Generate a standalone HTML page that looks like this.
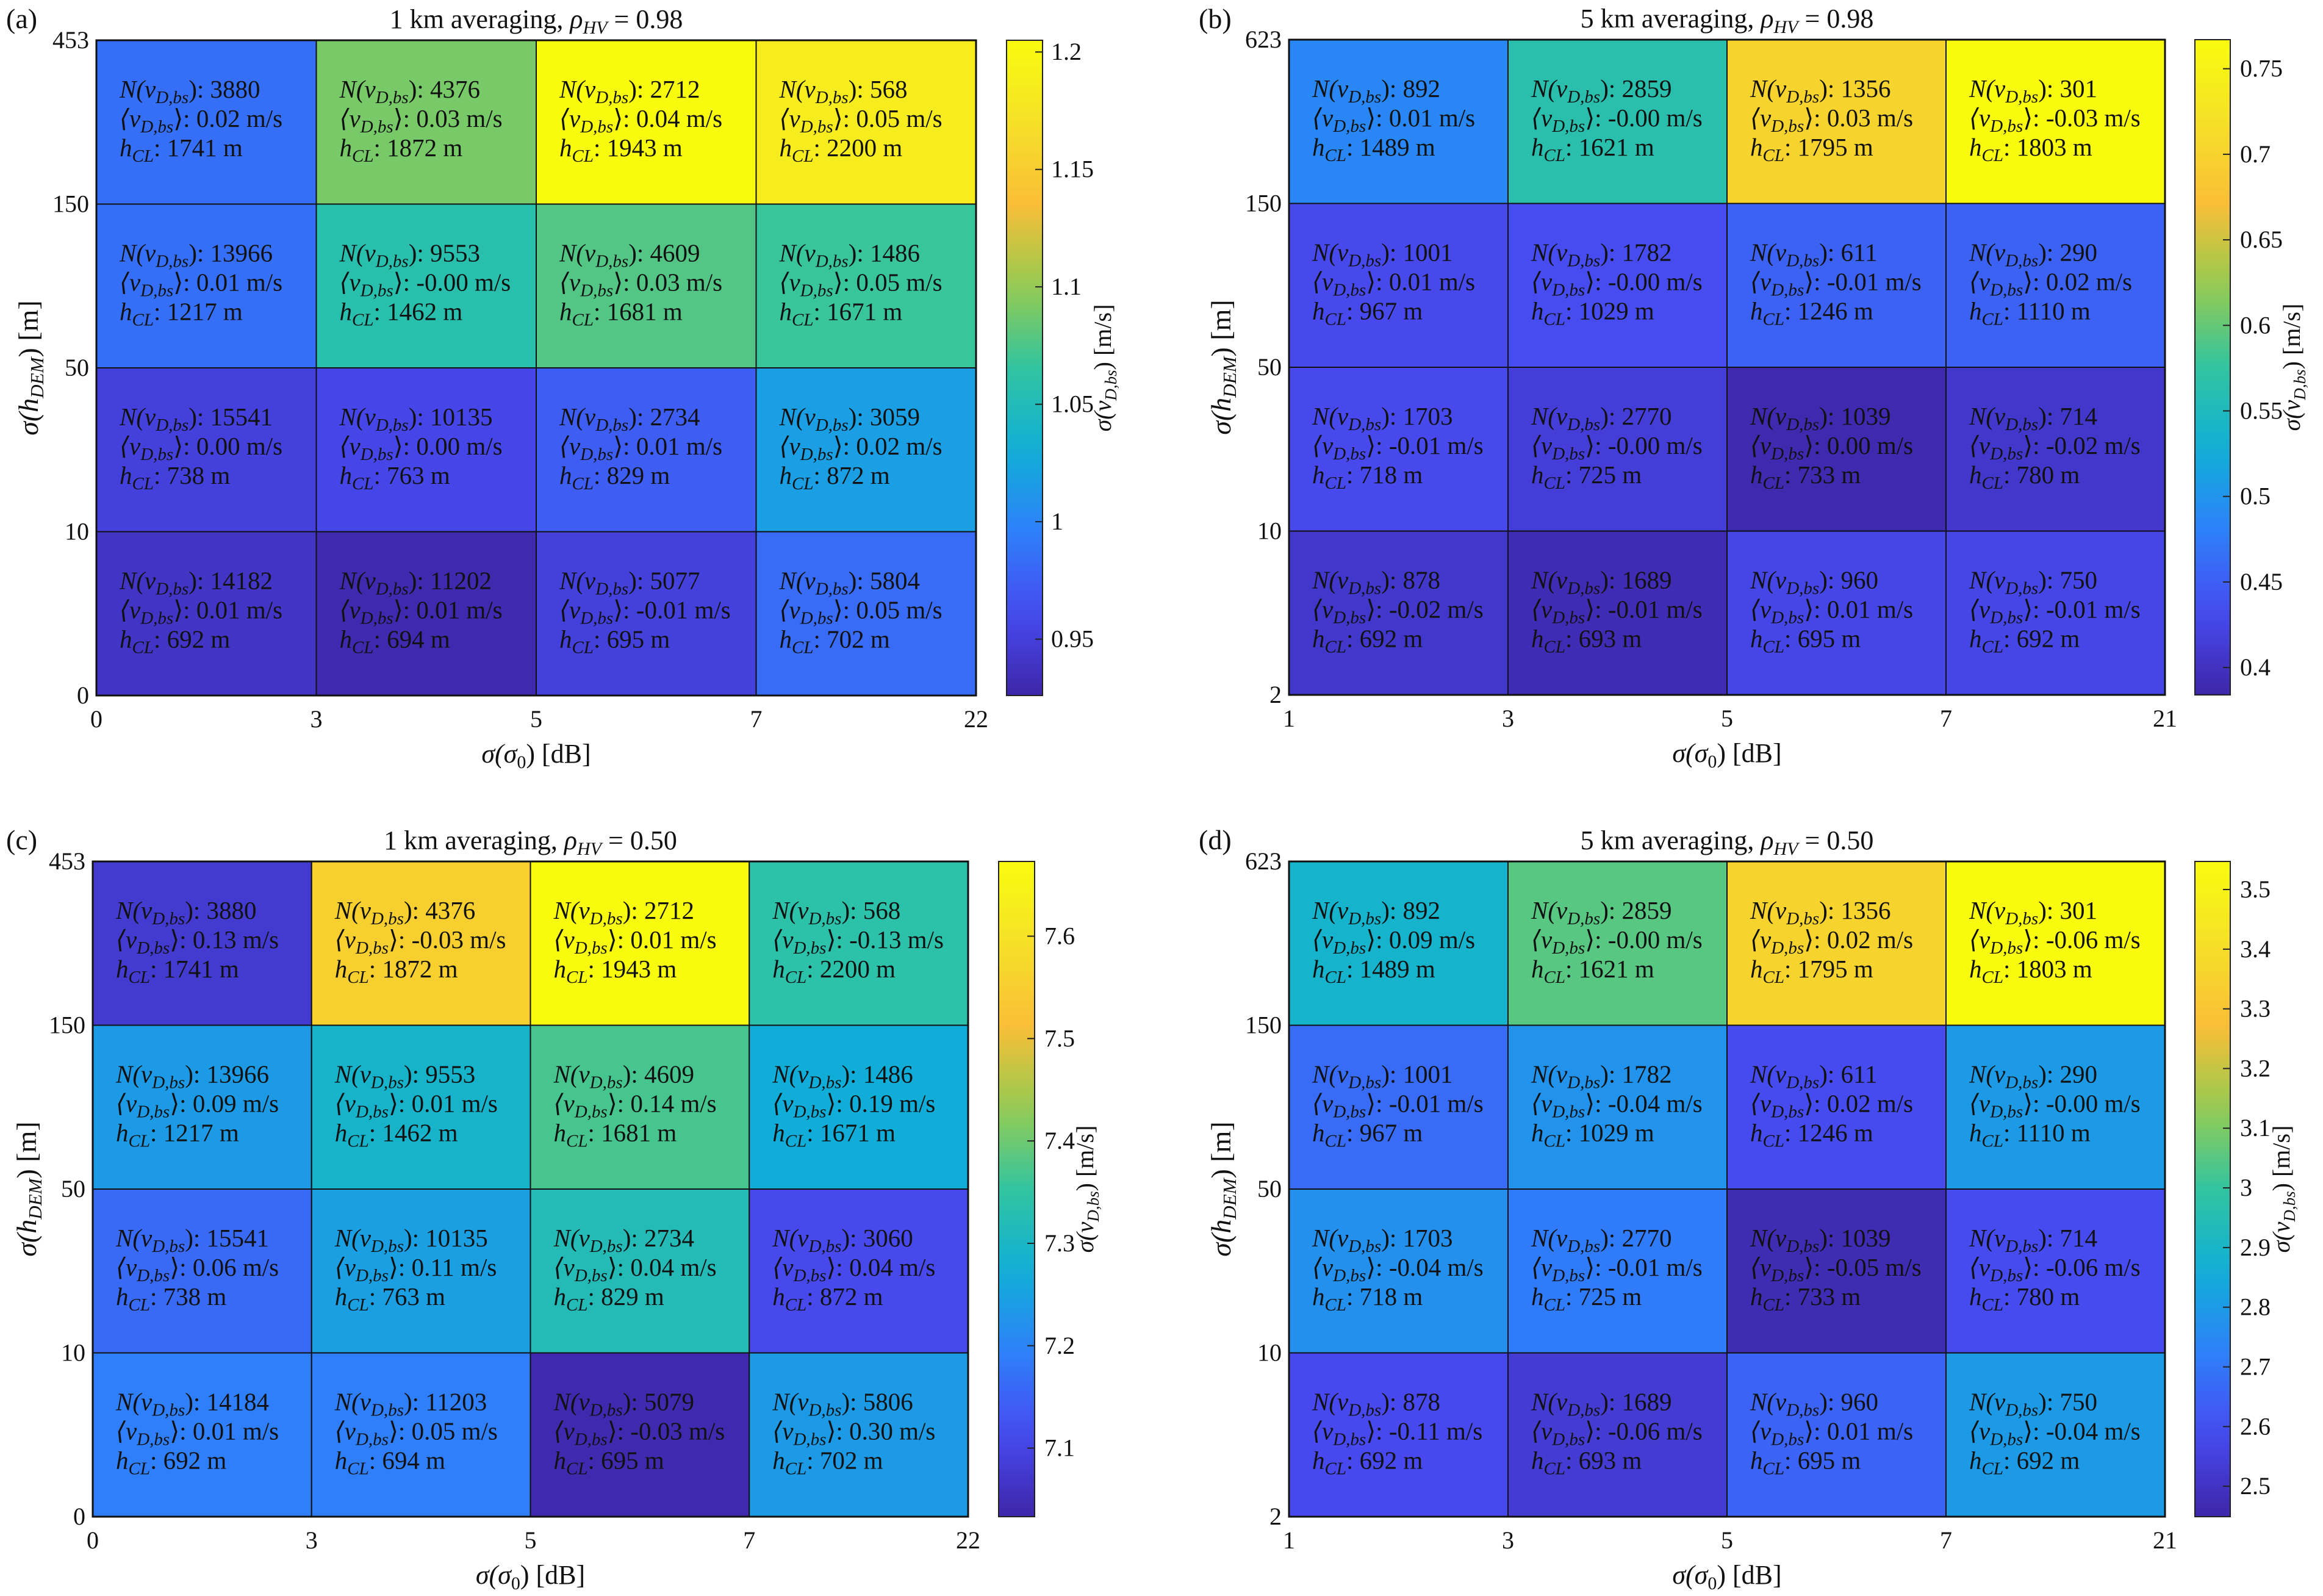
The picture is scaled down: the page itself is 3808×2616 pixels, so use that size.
<!DOCTYPE html>
<html><head><meta charset="utf-8"><style>
body{margin:0;background:#fff}
svg{display:block}
svg text{font-family:"Liberation Serif","DejaVu Serif",serif;fill:#111}
</style></head><body>
<svg id="fig" width="3808" height="2616" viewBox="0 0 3808 2616" xmlns="http://www.w3.org/2000/svg" font-family="Liberation Serif, DejaVu Serif, serif">
<defs id="defs"></defs>
</svg>
<script>
// ---- data ----
const panelIds = ['a','b','c','d'];
const panelTitles = ['1 km averaging, ','5 km averaging, ','1 km averaging, ','5 km averaging, '];
const rhoValues = ['0.98','0.98','0.50','0.50'];
const xTicksA = ['0','3','5','7','22'];
const xTicksB = ['1','3','5','7','21'];
const yTicksA = ['453','150','50','10','0'];
const yTicksB = ['623','150','50','10','2'];
// cell values (rows top->bottom, cols left->right)
const sigmaA = [[0.985,1.090,1.205,1.185],[0.985,1.057,1.077,1.068],[0.951,0.957,0.973,1.018],[0.940,0.929,0.951,0.982]];
const sigmaB = [[0.487,0.564,0.700,0.767],[0.430,0.434,0.453,0.453],[0.430,0.415,0.388,0.407],[0.407,0.392,0.426,0.426]];
const sigmaC = [[7.078,7.555,7.673,7.340],[7.238,7.290,7.370,7.270],[7.160,7.245,7.320,7.110],[7.190,7.190,7.040,7.238]];
const sigmaD = [[2.888,3.050,3.360,3.547],[2.670,2.780,2.590,2.800],[2.770,2.710,2.470,2.590],[2.580,2.530,2.650,2.800]];
const climA = [0.926,1.205], climB = [0.384,0.767], climC = [7.033,7.673], climD = [2.449,3.547];
const cbTicksA = ['0.95','1','1.05','1.1','1.15','1.2'];
const cbTicksB = ['0.4','0.45','0.5','0.55','0.6','0.65','0.7','0.75'];
const cbTicksC = ['7.1','7.2','7.3','7.4','7.5','7.6'];
const cbTicksD = ['2.5','2.6','2.7','2.8','2.9','3','3.1','3.2','3.3','3.4','3.5'];
const countsA = [[3880,4376,2712,568],[13966,9553,4609,1486],[15541,10135,2734,3059],[14182,11202,5077,5804]];
const countsB = [[892,2859,1356,301],[1001,1782,611,290],[1703,2770,1039,714],[878,1689,960,750]];
const countsC = [[3880,4376,2712,568],[13966,9553,4609,1486],[15541,10135,2734,3060],[14184,11203,5079,5806]];
const countsD = countsB;
const meanA = [['0.02','0.03','0.04','0.05'],['0.01','-0.00','0.03','0.05'],['0.00','0.00','0.01','0.02'],['0.01','0.01','-0.01','0.05']];
const meanB = [['0.01','-0.00','0.03','-0.03'],['0.01','-0.00','-0.01','0.02'],['-0.01','-0.00','0.00','-0.02'],['-0.02','-0.01','0.01','-0.01']];
const meanC = [['0.13','-0.03','0.01','-0.13'],['0.09','0.01','0.14','0.19'],['0.06','0.11','0.04','0.04'],['0.01','0.05','-0.03','0.30']];
const meanD = [['0.09','-0.00','0.02','-0.06'],['-0.01','-0.04','0.02','-0.00'],['-0.04','-0.01','-0.05','-0.06'],['-0.11','-0.06','0.01','-0.04']];
const hclA = [[1741,1872,1943,2200],[1217,1462,1681,1671],[738,763,829,872],[692,694,695,702]];
const hclB = [[1489,1621,1795,1803],[967,1029,1246,1110],[718,725,733,780],[692,693,695,692]];
const hclC = hclA, hclD = hclB;

// ---- layout (not data) ----
const layouts = [
 {x0:158,x1:1600,y0:66,y1:1140,cbx:1650,cbw:59,cblx:1723,cblab:1821,ylab:48,plx:10,ply:46},
 {x0:2113,x1:3549,y0:65,y1:1139,cbx:3598,cbw:58,cblx:3672,cblab:3770,ylab:2003,plx:1965,ply:46},
 {x0:152,x1:1587,y0:1412,y1:2486,cbx:1637,cbw:59,cblx:1712,cblab:1792,ylab:45,plx:10,ply:1392},
 {x0:2113,x1:3549,y0:1412,y1:2486,cbx:3598,cbw:58,cblx:3672,cblab:3753,ylab:2003,plx:1965,ply:1392}
];
const sigmas=[sigmaA,sigmaB,sigmaC,sigmaD], clims=[climA,climB,climC,climD];
const cbTicks=[cbTicksA,cbTicksB,cbTicksC,cbTicksD];
const counts=[countsA,countsB,countsC,countsD], means=[meanA,meanB,meanC,meanD], hcls=[hclA,hclB,hclC,hclD];
const xTicks=[xTicksA,xTicksB,xTicksA,xTicksB], yTicks=[yTicksA,yTicksB,yTicksA,yTicksB];

const parula=[[0,62,38,168],[0.125,71,74,240],[0.25,46,128,250],[0.375,15,175,215],[0.5,50,196,160],[0.625,150,203,80],[0.75,250,190,55],[0.875,245,225,40],[1,249,251,14]];
function cmap(f){f=Math.max(0,Math.min(1,f));for(let i=1;i<parula.length;i++){if(f<=parula[i][0]){const a=parula[i-1],b=parula[i],t=(f-a[0])/(b[0]-a[0]);return 'rgb('+[1,2,3].map(k=>Math.round(a[k]+(b[k]-a[k])*t)).join(',')+')';}}return 'rgb(249,251,14)';}

const NS='http://www.w3.org/2000/svg';
const svg=document.getElementById('fig');
const defs=document.getElementById('defs');
function el(tag,attrs,parent){const e=document.createElementNS(NS,tag);for(const k in attrs)e.setAttribute(k,attrs[k]);(parent||svg).appendChild(e);return e;}
function ts(parent,txt,attrs){const t=el('tspan',attrs||{},parent);t.textContent=txt;return t;}
const FF='Liberation Serif, DejaVu Serif, serif';

const grad=el('linearGradient',{id:'parula',x1:'0',y1:'1',x2:'0',y2:'0'},defs);
for(let i=0;i<=20;i++){el('stop',{offset:(i/20),'stop-color':cmap(i/20)},grad);}

panelIds.forEach((pid,p)=>{
  const L=layouts[p]; const S=sigmas[p]; const cl=clims[p];
  const g=el('g',{'font-family':FF});
  
  
  const cw=(L.x1-L.x0)/4, ch=(L.y1-L.y0)/4;
  const xs=c=>L.x0+c*cw, ys=r=>L.y0+r*ch;
  const frac=v=>(v-cl[0])/(cl[1]-cl[0]);
  for(let r=0;r<4;r++)for(let c=0;c<4;c++){
    const cell=el('rect',{x:xs(c),y:ys(r),width:cw,height:ch,fill:cmap(frac(S[r][c])),stroke:'#111','stroke-width':2},g);
    
    
    const tx=xs(c)+38, by=ys(r)+94;
    const t1=el('text',{x:tx,y:by,'font-size':41},g);
    
    
    ts(t1,'N(v',{'font-style':'italic'});
    ts(t1,'D,bs',{'font-size':29,dy:9,'font-style':'italic'});
    ts(t1,'): '+counts[p][r][c],{dy:-9});
    const t2=el('text',{x:tx,y:by+48,'font-size':41},g);
    
    
    ts(t2,'⟨v',{'font-style':'italic'});
    ts(t2,'D,bs',{'font-size':29,dy:9,'font-style':'italic'});
    ts(t2,'⟩: '+means[p][r][c]+' m/s',{dy:-9});
    const t3=el('text',{x:tx,y:by+96,'font-size':41},g);
    
    
    ts(t3,'h',{'font-style':'italic'});
    ts(t3,'CL',{'font-size':29,dy:9,'font-style':'italic'});
    ts(t3,': '+hcls[p][r][c]+' m',{dy:-9});
  }
  el('rect',{x:L.x0,y:L.y0,width:L.x1-L.x0,height:L.y1-L.y0,fill:'none',stroke:'#111','stroke-width':3},g);
  xTicks[p].forEach((lab,i)=>{const t=el('text',{x:xs(i),y:L.y1+52,'font-size':40,'text-anchor':'middle'},g);t.textContent=lab;
    });
  yTicks[p].forEach((lab,i)=>{const t=el('text',{x:L.x0-12,y:ys(i)+13,'font-size':40,'text-anchor':'end'},g);t.textContent=lab;
    });
  const xl=el('text',{x:(L.x0+L.x1)/2,y:L.y1+110,'font-size':44,'text-anchor':'middle'},g);
  
  ts(xl,'σ(',{'font-style':'italic'});ts(xl,'σ',{'font-style':'italic'});ts(xl,'0',{'font-size':30,dy:9});ts(xl,') [dB]',{dy:-9});
  const yc=(L.y0+L.y1)/2;
  const yl=el('text',{x:0,y:0,'font-size':46,'text-anchor':'middle',transform:'translate('+(L.ylab+14)+','+yc+') rotate(-90)'},g);
  
  ts(yl,'σ(h',{'font-style':'italic'});ts(yl,'DEM',{'font-size':31,dy:9,'font-style':'italic'});ts(yl,') [m]',{dy:-9});
  const ti=el('text',{x:(L.x0+L.x1)/2,y:L.y0-20,'font-size':44,'text-anchor':'middle'},g);
  
  ts(ti,panelTitles[p]);ts(ti,'ρ',{'font-style':'italic'});ts(ti,'HV',{'font-size':30,dy:9,'font-style':'italic'});ts(ti,' = '+rhoValues[p],{dy:-9});
  const pl=el('text',{x:L.plx,y:L.ply,'font-size':46},g);pl.textContent='('+pid+')';
  
  const cb=el('rect',{x:L.cbx,y:L.y0,width:L.cbw,height:L.y1-L.y0,fill:'url(#parula)',stroke:'#222','stroke-width':2},g);
  
  const cy=v=>L.y1-frac(v)*(L.y1-L.y0);
  cbTicks[p].forEach(lab=>{const y=cy(parseFloat(lab));
    el('line',{x1:L.cbx+L.cbw-12,x2:L.cbx+L.cbw,y1:y,y2:y,stroke:'#222','stroke-width':2},g);
    const t=el('text',{x:L.cblx,y:y+13,'font-size':40},g);t.textContent=lab;
    });
  const cbl=el('text',{x:0,y:0,'font-size':40,'text-anchor':'middle',transform:'translate('+L.cblab+','+yc+') rotate(-90)'},g);
  
  ts(cbl,'σ(v',{'font-style':'italic'});ts(cbl,'D,bs',{'font-size':27,dy:9,'font-style':'italic'});ts(cbl,') [m/s]',{dy:-9});
});
</script>
</body></html>
